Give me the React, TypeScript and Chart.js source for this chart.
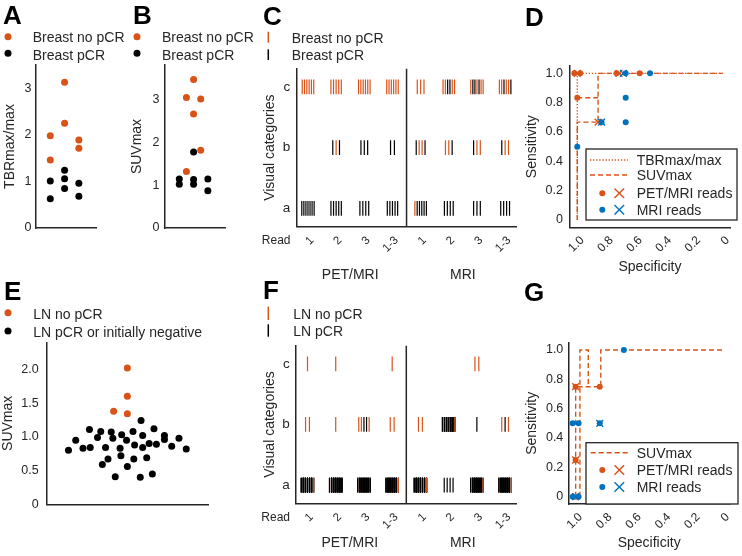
import React, { useEffect, useRef } from "react";
import { Chart, registerables } from "chart.js";

Chart.register(...registerables);

const ORANGE = "#D95319";
const BLUE = "#0072BD";
const INK = "#262626";
const FONT = "'Liberation Sans', Arial, Helvetica, sans-serif";

// ---------------- Panel A: TBRmax/max ----------------
const aNoPcrX = [1, 1, 2, 2, 3, 3];
const aNoPcrY = [1.98, 1.46, 3.13, 2.25, 1.89, 1.71];
const aPcrX = [1, 1, 2, 2, 2, 3, 3];
const aPcrY = [1.01, 0.63, 1.24, 1.06, 0.85, 0.96, 0.68];
const aYTicks = [0, 1, 2, 3];

// ---------------- Panel B: SUVmax ----------------
const bNoPcrX = [1.5, 2, 2.5, 2, 2.5, 1.5];
const bNoPcrY = [3.04, 3.46, 3.01, 2.66, 1.81, 1.32];
const bPcrX = [1, 1, 2, 2, 2, 3, 3];
const bPcrY = [1.14, 1.02, 1.77, 1.13, 1.02, 1.14, 0.87];
const bYTicks = [0, 1, 2, 3];

// ---------------- Panels C / F: visual categories ----------------
const readLabels = ["1", "2", "3", "1-3", "1", "2", "3", "1-3"];
const modalityTitles = ["PET/MRI", "MRI"];
const modalityCenters = [2.5, 6.5];
const rowLabels = ["a", "b", "c"];
const rowTicks = [1, 2, 3];
const groupTicks = [1, 2, 3, 4, 5, 6, 7, 8];
// O = no pCR (orange), K = pCR (black); digits = repeat count
const breastRowA = ["7K", "5K", "4K", "5K", "O5K", "4K", "3K", "4K"];
const breastRowB = ["", "KOK", "3K", "2K", "K2OK", "2OK", "K2O", "K2O"];
const breastRowC = ["6O", "5O", "6O", "6O", "3O", "2O2K2O", "OKKOKOO", "2OK2OK"];
const lnRowA = ["35KO", "O20KO15K", "O33K", "35KO", "O35KO", "4K", "O34KO", "O34KO"];
const lnRowB = ["2O", "O", "2O2KO", "2O", "2O", "2O16KO15KO", "K", "OKO"];
const lnRowC = ["O", "O", "", "O", "", "", "2O", ""];

// ---------------- Panel E: LN SUVmax ----------------
const eNoPcrX = [0.83, 1.0, 1.0, 1.0];
const eNoPcrY = [1.38, 2.02, 1.6, 1.34];
const ePcrX = [0.27, 0.36, 0.45, 0.53, 0.54, 0.63, 0.67, 0.69, 0.73, 0.76, 0.8, 0.82, 0.85, 0.91, 0.92, 0.93, 0.99, 1.0, 1.07, 1.09, 1.08, 1.16, 1.17, 1.19, 1.19, 1.24, 1.27, 1.31, 1.33, 1.36, 1.46, 1.46, 1.55, 1.64, 1.73];
const ePcrY = [0.8, 0.95, 0.83, 1.11, 0.84, 0.99, 1.08, 0.59, 0.84, 0.67, 1.07, 0.98, 0.41, 0.83, 0.72, 1.03, 0.95, 0.56, 1.08, 0.88, 0.67, 0.4, 1.24, 1.02, 0.84, 0.69, 0.9, 0.45, 1.12, 0.89, 0.96, 1.02, 0.86, 0.98, 0.82];
const eYTicks = [0, 0.5, 1, 1.5, 2];
const eYTickLabels = ["0", "0.5", "1.0", "1.5", "2.0"];

// ---------------- Panels D / G: ROC ----------------
const rocTicks = [0, 0.2, 0.4, 0.6, 0.8, 1];
const rocTickLabels = ["0", "0.2", "0.4", "0.6", "0.8", "1.0"];

const dTbrSpec = [1, 1, 0];
const dTbrSens = [0, 1, 1];
const dSuvSpec = [1, 1, 0.857, 0.857, 0];
const dSuvSens = [0, 0.667, 0.667, 1, 1];
const dSuvStepSpec = [1, 0.857];
const dSuvStepSens = [0.833, 0.833];
const dPetDotSpec = [1.02, 0.98, 1, 0.73, 0.571];
const dPetDotSens = [1, 1, 0.833, 1, 1];
const dPetCrossSpec = [1, 0.714, 0.857];
const dPetCrossSens = [1, 1, 0.667];
const dMriDotSpec = [0.667, 0.5, 0.667, 0.667, 1, 0.833];
const dMriDotSens = [1, 1, 0.833, 0.667, 0.5, 0.667];
const dMriCrossSpec = [0.683, 0.833];
const dMriCrossSens = [1, 0.667];

const gSuvSpec = [1, 1, 0.829, 0.829, 0];
const gSuvSens = [0, 0.75, 0.75, 1, 1];
const gSuvAltSpec = [0.971, 0.971, 0.914, 0.914];
const gSuvAltSens = [0, 1, 1, 0.75];
const gPetDotSpec = [1, 1, 1, 0.836];
const gPetDotSens = [0.75, 0.25, 0, 0.75];
const gPetCrossSpec = [1, 1, 1];
const gPetCrossSens = [0.75, 0.25, 0];
const gMriDotSpec = [0.672, 1.02, 0.98, 0.836, 1.02, 0.98];
const gMriDotSens = [1, 0.5, 0.5, 0.5, 0, 0];
const gMriCrossSpec = [0.836, 1];
const gMriCrossSens = [0.5, 0];

// ---------------- helpers ----------------
const zip = (xs: number[], ys: number[]) => xs.map((x, i) => ({ x, y: ys[i] }));

function parseCell(s: string): string[] {
  const out: string[] = [];
  const re = /(\d*)([OK])/g;
  let m: any;
  while ((m = re.exec(s))) {
    const n = m[1] ? parseInt(m[1], 10) : 1;
    for (let k = 0; k < n; k++) out.push(m[2]);
  }
  return out;
}

function rugData(rows: string[][], pxPerUnit: number) {
  const pts: any[] = [];
  const colors: string[] = [];
  rows.forEach((row, r) =>
    row.forEach((cell, g) => {
      const seq = parseCell(cell);
      const n = seq.length;
      if (!n) return;
      const m = Math.min(n, 7);
      const span = m > 1 ? 15 * (1 - Math.exp(-(m - 1) / 3.3)) : 0;
      seq.forEach((c, j) => {
        const slot = n === m ? j : Math.round((j * (m - 1)) / (n - 1));
        const off = m > 1 ? ((slot - (m - 1) / 2) * span) / (m - 1) : 0;
        pts.push({ x: groupTicks[g] + off / pxPerUnit, y: rowTicks[r] });
        colors.push(c === "O" ? ORANGE : "#000");
      });
    })
  );
  return { pts, colors };
}

const setTicks = (values: number[]) => (s: any) => {
  s.ticks = values.map((v) => ({ value: v }));
};
const fixW = (w: number) => (s: any) => {
  s.width = w;
  s.paddingTop = 0;
  s.paddingBottom = 0;
  s.paddingLeft = 0;
  s.paddingRight = 0;
};
const fixH = (h: number) => (s: any) => {
  s.height = h;
  s.paddingTop = 0;
  s.paddingBottom = 0;
  s.paddingLeft = 0;
  s.paddingRight = 0;
};
const axisBase = () => ({
  type: "linear",
  grid: { display: false, drawTicks: false },
  border: { display: true, color: INK, width: 1.5 },
});
const titleFont = { family: FONT, size: 14 };
const tickFont = (size = 12) => ({ family: FONT, size });

function baseOptions(padding: any, scales: any) {
  return {
    animation: false,
    responsive: false,
    maintainAspectRatio: false,
    devicePixelRatio: 1,
    events: [],
    layout: { padding },
    plugins: { legend: { display: false }, tooltip: { enabled: false }, title: { display: false } },
    scales,
  };
}

function ChartBox({ left, top, width, height, make }: any) {
  const ref = useRef<HTMLCanvasElement>(null);
  useEffect(() => {
    const chart = new Chart(ref.current as any, make());
    return () => chart.destroy();
  }, []);
  return (
    <canvas
      ref={ref}
      width={width}
      height={height}
      style={{ position: "absolute", left, top, width, height }}
    />
  );
}

// ---------- dot-plot panels (A, B, E) ----------
function dotConfig(o: any) {
  return {
    type: "scatter",
    data: {
      datasets: [
        { data: o.orange, pointRadius: 3.5, pointBackgroundColor: ORANGE, pointBorderWidth: 0 },
        { data: o.black, pointRadius: 3.5, pointBackgroundColor: "#000", pointBorderWidth: 0 },
      ],
    },
    options: baseOptions(o.padding, {
      x: { ...axisBase(), min: o.xMin, max: o.xMax, ticks: { display: false }, afterFit: fixH(o.xH) },
      y: {
        ...axisBase(),
        min: o.yMin,
        max: o.yMax,
        afterBuildTicks: setTicks(o.yTicks),
        ticks: { color: INK, font: tickFont(12.5), padding: o.tickPad, callback: (_v: any, i: number) => o.yLabels[i] },
        title: { display: true, text: o.title, color: INK, font: titleFont, padding: { top: o.titlePad, bottom: 0 } },
        afterFit: fixW(o.yW),
      },
    }),
  };
}

// ---------- rug panels (C, F) ----------
function rugConfig(o: any) {
  const rug = rugData(o.rows, 223.3 / 7.8);
  const textPlugin = {
    id: "groupText" + o.id,
    afterDraw(chart: any) {
      const { ctx, chartArea, scales } = chart;
      ctx.save();
      ctx.fillStyle = INK;
      ctx.textAlign = "center";
      ctx.textBaseline = "middle";
      ctx.font = `12px ${FONT}`;
      ctx.fillText("Read", chartArea.left - 20.5, chartArea.bottom + o.readOff);
      ctx.font = `14px ${FONT}`;
      modalityTitles.forEach((t, i) =>
        ctx.fillText(t, scales.x.getPixelForValue(modalityCenters[i]), chartArea.bottom + o.titleOff)
      );
      ctx.restore();
    },
  };
  return {
    type: "scatter",
    data: {
      datasets: [
        {
          data: rug.pts,
          pointStyle: "line",
          pointRotation: 90,
          pointRadius: 7.4,
          pointBorderWidth: 1.2,
          pointBorderColor: rug.colors,
          pointBackgroundColor: "rgba(0,0,0,0)",
        },
        {
          data: [
            { x: 4.5, y: 0.7 },
            { x: 4.5, y: 3.3 },
          ],
          showLine: true,
          borderColor: INK,
          borderWidth: 1.5,
          pointRadius: 0,
        },
      ],
    },
    options: baseOptions(o.padding, {
      x: {
        ...axisBase(),
        min: 0.6,
        max: 8.4,
        afterBuildTicks: setTicks(groupTicks),
        ticks: {
          color: INK,
          font: tickFont(11.5),
          padding: 7,
          labelOffset: 4,
          minRotation: 45,
          maxRotation: 45,
          autoSkip: false,
          callback: (_v: any, i: number) => readLabels[i],
        },
        afterFit: fixH(o.xH),
      },
      y: {
        ...axisBase(),
        min: 0.7,
        max: 3.3,
        afterBuildTicks: setTicks(rowTicks),
        ticks: { color: INK, font: tickFont(13.5), padding: 6.5, callback: (_v: any, i: number) => rowLabels[i] },
        title: { display: true, text: "Visual categories", color: INK, font: titleFont, padding: { top: 7, bottom: 0 } },
        afterFit: fixW(o.yW),
      },
    }),
    plugins: [textPlugin],
  };
}

// ---------- ROC panels (D, G) ----------
function stepLine(data: any[], dash: number[]) {
  return { data, showLine: true, borderColor: ORANGE, borderWidth: 1.4, borderDash: dash, pointRadius: 0, fill: false };
}
function dots(data: any[], color: string) {
  return { data, pointRadius: 3, pointBackgroundColor: color, pointBorderWidth: 0 };
}
function crosses(data: any[], color: string) {
  return { data, pointStyle: "crossRot", pointRadius: 4.8, pointBorderColor: color, pointBorderWidth: 1.4, pointBackgroundColor: color };
}
function rocConfig(o: any) {
  return {
    type: "scatter",
    data: { datasets: o.datasets },
    options: baseOptions(o.padding, {
      x: {
        ...axisBase(),
        min: -0.05,
        max: 1.05,
        reverse: true,
        afterBuildTicks: setTicks(rocTicks),
        ticks: {
          color: INK,
          font: tickFont(12),
          padding: 6,
          labelOffset: 5,
          minRotation: 45,
          maxRotation: 45,
          autoSkip: false,
          callback: (_v: any, i: number) => rocTickLabels[i],
        },
        title: { display: true, text: "Specificity", color: INK, font: titleFont, padding: { top: 0, bottom: o.xTitlePad } },
        afterFit: fixH(o.xH),
      },
      y: {
        ...axisBase(),
        min: -0.05,
        max: 1.05,
        afterBuildTicks: setTicks(rocTicks),
        ticks: { color: INK, font: tickFont(12.5), padding: o.tickPad, callback: (_v: any, i: number) => rocTickLabels[i] },
        title: { display: true, text: "Sensitivity", color: INK, font: titleFont, padding: { top: o.yTitlePad, bottom: 0 } },
        afterFit: fixW(o.yW),
      },
    }),
  };
}

// ---------- text helpers ----------
function Txt({ x, cy, size = 14, bold = false, color = INK, children }: any) {
  return (
    <div
      style={{
        position: "absolute",
        left: x,
        top: cy - 0.4885 * size,
        fontFamily: FONT,
        fontSize: size,
        lineHeight: 1,
        fontWeight: bold ? 700 : 400,
        color,
        whiteSpace: "nowrap",
      }}
    >
      {children}
    </div>
  );
}

function XMark({ x, y, r, color }: any) {
  return (
    <g stroke={color} strokeWidth={1.4}>
      <line x1={x - r} y1={y - r} x2={x + r} y2={y + r} />
      <line x1={x - r} y1={y + r} x2={x + r} y2={y - r} />
    </g>
  );
}

export default function App() {
  return (
    <div
      style={{
        position: "absolute",
        left: 0,
        top: 0,
        width: 742,
        height: 556,
        background: "#fff",
        overflow: "hidden",
      }}
    >
      {/* A */}
      <ChartBox
        left={0}
        top={58}
        width={100}
        height={175}
        make={() =>
          dotConfig({
            orange: zip(aNoPcrX, aNoPcrY),
            black: zip(aPcrX, aPcrY),
            padding: { top: 7, right: 4, left: 0, bottom: 0 },
            xMin: 0,
            xMax: 4.2,
            xH: 5,
            yMin: 0,
            yMax: 3.5,
            yTicks: aYTicks,
            yLabels: aYTicks.map(String),
            tickPad: 4.5,
            title: "TBRmax/max",
            titlePad: 2,
            yW: 36,
          })
        }
      />
      {/* B */}
      <ChartBox
        left={125}
        top={58}
        width={105}
        height={175}
        make={() =>
          dotConfig({
            orange: zip(bNoPcrX, bNoPcrY),
            black: zip(bPcrX, bPcrY),
            padding: { top: 7, right: 5, left: 0, bottom: 0 },
            xMin: 0,
            xMax: 4.2,
            xH: 5,
            yMin: 0,
            yMax: 3.8,
            yTicks: bYTicks,
            yLabels: bYTicks.map(String),
            tickPad: 5.5,
            title: "SUVmax",
            titlePad: 3.6,
            yW: 40,
          })
        }
      />
      {/* C */}
      <ChartBox
        left={255}
        top={60}
        width={270}
        height={230}
        make={() =>
          rugConfig({
            id: "C",
            rows: [breastRowA, breastRowB, breastRowC],
            padding: { top: 6.7, right: 5, left: 0, bottom: 0 },
            xH: 63.3,
            yW: 41.7,
            readOff: 14,
            titleOff: 48.5,
          })
        }
      />
      {/* D */}
      <ChartBox
        left={520}
        top={58}
        width={222}
        height={220}
        make={() =>
          rocConfig({
            padding: { top: 8, right: 12, left: 0, bottom: 0 },
            xH: 50.7,
            yW: 50,
            tickPad: 7,
            xTitlePad: 2.1,
            yTitlePad: 3.3,
            datasets: [
              crosses(zip(dMriCrossSpec, dMriCrossSens), BLUE),
              dots(zip(dMriDotSpec, dMriDotSens), BLUE),
              crosses(zip(dPetCrossSpec, dPetCrossSens), ORANGE),
              dots(zip(dPetDotSpec, dPetDotSens), ORANGE),
              stepLine(zip(dSuvStepSpec, dSuvStepSens), [5, 3]),
              stepLine(zip(dSuvSpec, dSuvSens), [5, 3]),
              stepLine(zip(dTbrSpec, dTbrSens), [1.3, 1.8]),
            ],
          })
        }
      />
      {/* E */}
      <ChartBox
        left={0}
        top={335}
        width={215}
        height={175}
        make={() =>
          dotConfig({
            orange: zip(eNoPcrX, eNoPcrY),
            black: zip(ePcrX, ePcrY),
            padding: { top: 7.3, right: 7, left: 0, bottom: 0 },
            xMin: 0,
            xMax: 2,
            xH: 5.7,
            yMin: 0,
            yMax: 2.4,
            yTicks: eYTicks,
            yLabels: eYTickLabels,
            tickPad: 8,
            title: "SUVmax",
            titlePad: 0,
            yW: 46.7,
          })
        }
      />
      {/* F */}
      <ChartBox
        left={255}
        top={337}
        width={270}
        height={219}
        make={() =>
          rugConfig({
            id: "F",
            rows: [lnRowA, lnRowB, lnRowC],
            padding: { top: 6.3, right: 5, left: 0, bottom: 0 },
            xH: 52.7,
            yW: 41.2,
            readOff: 14,
            titleOff: 40,
          })
        }
      />
      {/* G */}
      <ChartBox
        left={520}
        top={335}
        width={222}
        height={221}
        make={() =>
          rocConfig({
            padding: { top: 7.7, right: 12, left: 0, bottom: 0 },
            xH: 52,
            yW: 48.3,
            tickPad: 5,
            xTitlePad: 4.1,
            yTitlePad: 4.1,
            datasets: [
              crosses(zip(gMriCrossSpec, gMriCrossSens), BLUE),
              dots(zip(gMriDotSpec, gMriDotSens), BLUE),
              crosses(zip(gPetCrossSpec, gPetCrossSens), ORANGE),
              dots(zip(gPetDotSpec, gPetDotSens), ORANGE),
              stepLine(zip(gSuvAltSpec, gSuvAltSens), [5, 3]),
              stepLine(zip(gSuvSpec, gSuvSens), [5, 3]),
            ],
          })
        }
      />

      {/* legend marks */}
      <svg width={742} height={556} style={{ position: "absolute", left: 0, top: 0, pointerEvents: "none" }}>
        <circle cx={8} cy={36.7} r={3.5} fill={ORANGE} />
        <circle cx={8} cy={53.3} r={3.5} fill="#000" />
        <circle cx={137} cy={36.7} r={3.5} fill={ORANGE} />
        <circle cx={137} cy={53.3} r={3.5} fill="#000" />
        <line x1={268.3} y1={31.7} x2={268.3} y2={42.7} stroke={ORANGE} strokeWidth={1.5} />
        <line x1={268.3} y1={49.3} x2={268.3} y2={60} stroke="#000" strokeWidth={1.5} />
        <circle cx={8} cy={312.7} r={3.5} fill={ORANGE} />
        <circle cx={8} cy={331} r={3.5} fill="#000" />
        <line x1={268.3} y1={306.7} x2={268.3} y2={320} stroke={ORANGE} strokeWidth={1.5} />
        <line x1={268.3} y1={324.3} x2={268.3} y2={336.7} stroke="#000" strokeWidth={1.5} />

        <rect x={586} y={149} width={151} height={71} fill="#fff" stroke={INK} strokeWidth={1.3} />
        <line x1={590} y1={160} x2={628} y2={160} stroke={ORANGE} strokeWidth={1.4} strokeDasharray="1.3 1.8" />
        <line x1={590} y1={175} x2={628} y2={175} stroke={ORANGE} strokeWidth={1.4} strokeDasharray="5 3" />
        <circle cx={602.3} cy={193.3} r={3} fill={ORANGE} />
        <XMark x={619.3} y={193.3} r={4.8} color={ORANGE} />
        <circle cx={602.3} cy={209.7} r={3} fill={BLUE} />
        <XMark x={619.3} y={209.7} r={4.8} color={BLUE} />

        <rect x={586} y={442.7} width={152} height={61.3} fill="#fff" stroke={INK} strokeWidth={1.3} />
        <line x1={590.7} y1={452.8} x2={628.3} y2={452.8} stroke={ORANGE} strokeWidth={1.4} strokeDasharray="5 3" />
        <circle cx={602.3} cy={470} r={3} fill={ORANGE} />
        <XMark x={619.3} y={470} r={4.8} color={ORANGE} />
        <circle cx={602.3} cy={487} r={3} fill={BLUE} />
        <XMark x={619.3} y={487} r={4.8} color={BLUE} />
      </svg>

      {/* panel letters */}
      <Txt x={3} cy={14.5} size={26} bold color="#000">A</Txt>
      <Txt x={133} cy={14.5} size={26} bold color="#000">B</Txt>
      <Txt x={263} cy={15.8} size={26} bold color="#000">C</Txt>
      <Txt x={525} cy={16.5} size={26} bold color="#000">D</Txt>
      <Txt x={4} cy={290.5} size={26} bold color="#000">E</Txt>
      <Txt x={263} cy={289.5} size={26} bold color="#000">F</Txt>
      <Txt x={524} cy={292} size={26} bold color="#000">G</Txt>

      {/* legend texts */}
      <Txt x={32.7} cy={37}>Breast no pCR</Txt>
      <Txt x={32.7} cy={54.7}>Breast pCR</Txt>
      <Txt x={162} cy={37}>Breast no pCR</Txt>
      <Txt x={162} cy={54.7}>Breast pCR</Txt>
      <Txt x={291.7} cy={37.5}>Breast no pCR</Txt>
      <Txt x={291.7} cy={54.5}>Breast pCR</Txt>
      <Txt x={33.3} cy={313.8}>LN no pCR</Txt>
      <Txt x={33.3} cy={331.5}>LN pCR or initially negative</Txt>
      <Txt x={293.3} cy={313.8}>LN no pCR</Txt>
      <Txt x={293.3} cy={331.2}>LN pCR</Txt>
      <Txt x={636.7} cy={160}>TBRmax/max</Txt>
      <Txt x={636.7} cy={175}>SUVmax</Txt>
      <Txt x={636.7} cy={193.3}>PET/MRI reads</Txt>
      <Txt x={636.7} cy={209.7}>MRI reads</Txt>
      <Txt x={636.7} cy={452.8}>SUVmax</Txt>
      <Txt x={636.7} cy={470}>PET/MRI reads</Txt>
      <Txt x={636.7} cy={487}>MRI reads</Txt>
    </div>
  );
}
